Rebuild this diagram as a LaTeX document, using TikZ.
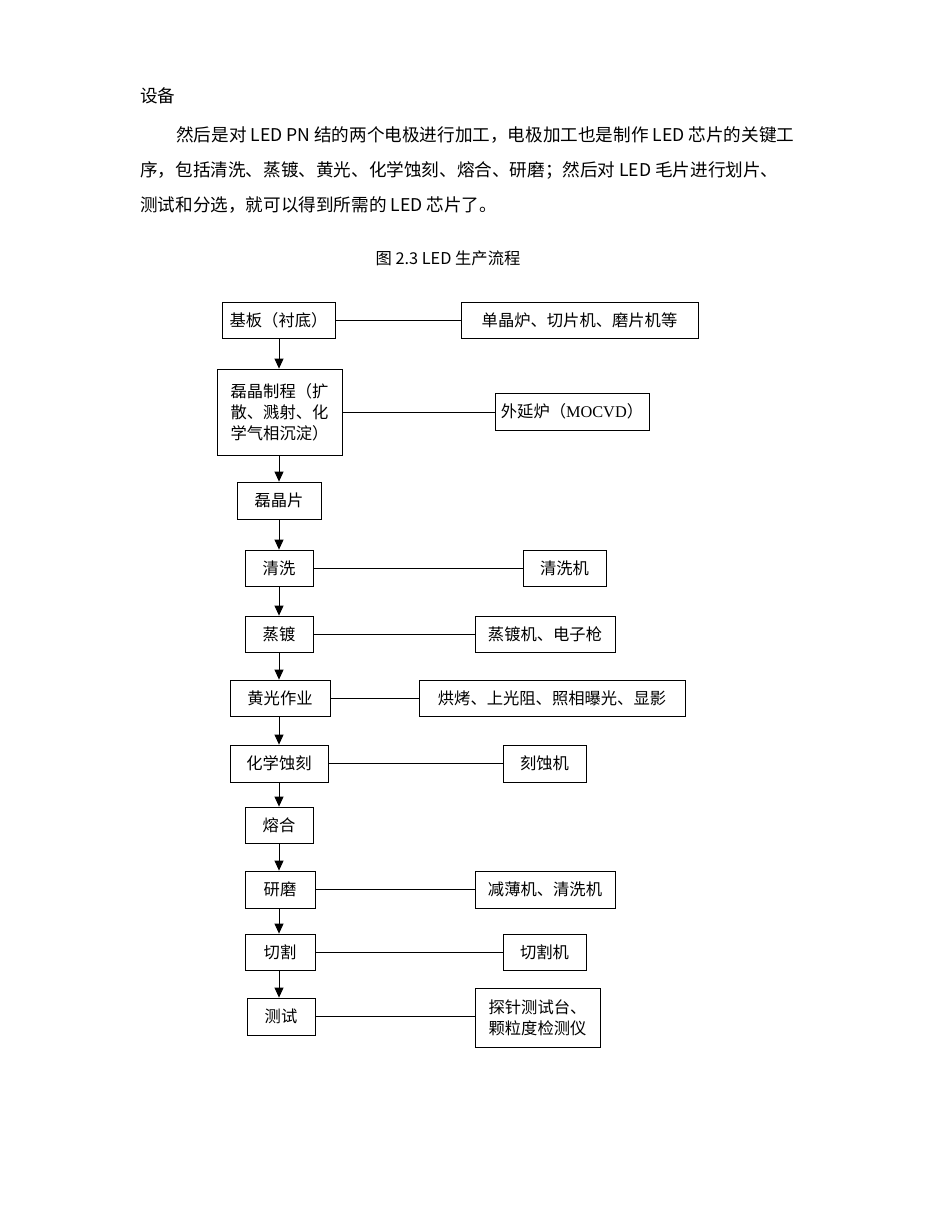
\documentclass[tikz,border=0pt]{standalone}
\usepackage{fontspec}
\setmainfont{Liberation Serif}
\newfontfamily\cjk{Noto Sans CJK SC}
\usetikzlibrary{arrows.meta}
\begin{document}
\begin{tikzpicture}[x=1pt,y=-1pt,
  bx/.style={draw,thick,inner sep=0pt,font=\cjk\fontsize{16.3}{21}\selectfont,align=center},
  ar/.style={-{Triangle[length=10pt,width=9pt]},thick},
  ln/.style={semithick},
  tx/.style={anchor=west,inner sep=0pt,font=\cjk\fontsize{17.6}{20}\selectfont}]
\useasboundingbox (0,0) rectangle (950,1230);
\node[tx] (t1) at (140,96) {设备};
\node[tx] (t2) at (176,135) {然后是对 LED PN 结的两个电极进行加工，电极加工也是制作 LED 芯片的关键工};
\node[tx] (t3) at (140,170) {序，包括清洗、蒸镀、黄光、化学蚀刻、熔合、研磨；然后对 LED 毛片进行划片、};
\node[tx] (t4) at (140,205) {测试和分选，就可以得到所需的 LED 芯片了。};
\node[font=\cjk\fontsize{16.3}{18}\selectfont] (cap) at (448,258) {图 2.3 LED 生产流程};
\newcommand\bxx[6]{\node[bx,minimum width=#4-#2,minimum height=#5-#3] (#1) at ({(#2+#4)/2},{(#3+#5)/2}) {#6};}
\bxx{a}{222}{302}{335}{338}{基板（衬底）}
\bxx{ar1}{461}{302}{698}{338}{单晶炉、切片机、磨片机等}
\bxx{b}{217}{369}{342}{455}{磊晶制程（扩\\散、溅射、化\\学气相沉淀）}
\bxx{br}{495}{393}{649}{430}{外延炉（{\rmfamily MOCVD}）}
\bxx{c}{237}{482}{321}{519}{磊晶片}
\bxx{d}{245}{550}{313}{586}{清洗}
\bxx{dr}{523}{550}{606}{586}{清洗机}
\bxx{e}{245}{616}{313}{652}{蒸镀}
\bxx{er}{475}{616}{615}{652}{蒸镀机、电子枪}
\bxx{f}{230}{680}{330}{716}{黄光作业}
\bxx{fr}{419}{680}{685}{716}{烘烤、上光阻、照相曝光、显影}
\bxx{g}{230}{745}{328}{782}{化学蚀刻}
\bxx{gr}{503}{745}{586}{782}{刻蚀机}
\bxx{h}{245}{807}{313}{843}{熔合}
\bxx{i}{245}{871}{315}{908}{研磨}
\bxx{ir}{475}{871}{615}{908}{减薄机、清洗机}
\bxx{j}{245}{934}{315}{970}{切割}
\bxx{jr}{503}{934}{586}{970}{切割机}
\bxx{k}{247}{998}{315}{1035}{测试}
\bxx{kr}{475}{988}{600}{1047}{探针测试台、\\颗粒度检测仪}
\foreach \u/\v in {a/b,b/c,c/d,d/e,e/f,f/g,g/h,h/i,i/j,j/k}
  \draw[ar] (\u.south -| 279,0) -- (\v.north -| 279,0);
\foreach \u/\v in {a/ar1,b/br,d/dr,e/er,f/fr,g/gr,i/ir,j/jr,k/kr}
  \draw[ln] (\u.east) -- (\u.east -| \v.west);
\end{tikzpicture}
\end{document}
